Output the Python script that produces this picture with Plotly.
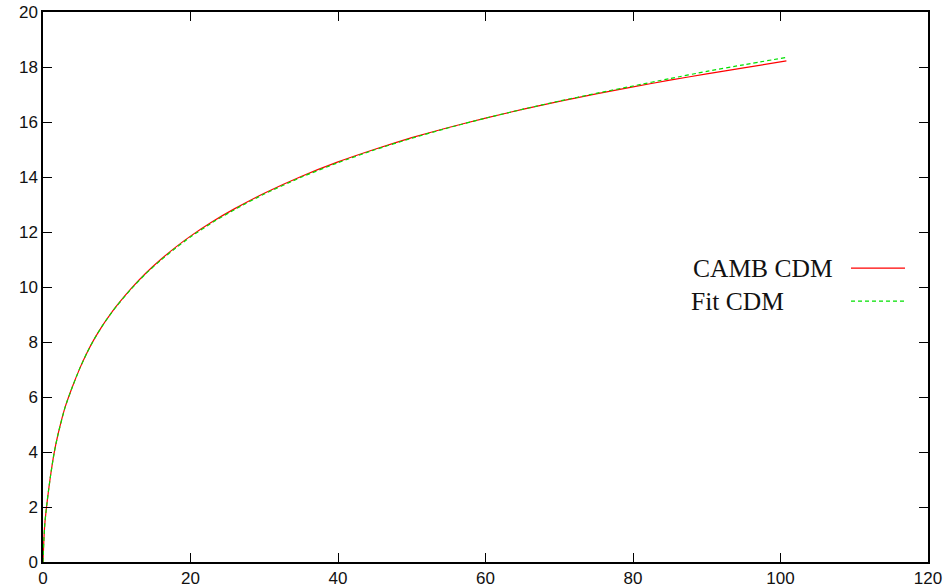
import plotly.graph_objects as go

# x values (independent variable)
x_vals = [0, 0.1, 0.25, 0.5, 0.75, 1, 1.5, 2, 3, 4, 5, 6, 7, 8, 9, 10, 12, 14, 16,
          18, 20, 23, 26, 30, 35, 40, 45, 50, 55, 60, 65, 70, 75, 80, 85, 90, 95, 100.8]

# CAMB CDM curve
camb_cdm = [0, 0.7, 1.4, 2.05, 2.6, 3.1, 3.95, 4.6, 5.63, 6.38, 7.05, 7.63, 8.13,
            8.57, 8.96, 9.32, 9.96, 10.52, 11.01, 11.45, 11.85, 12.38, 12.85, 13.41,
            14.02, 14.55, 15.01, 15.43, 15.8, 16.14, 16.46, 16.75, 17.02, 17.28,
            17.52, 17.75, 17.97, 18.22]

# Fit CDM curve
fit_cdm = [0, 0.7, 1.4, 2.05, 2.6, 3.1, 3.95, 4.6, 5.63, 6.38, 7.05, 7.63, 8.13,
           8.57, 8.96, 9.31, 9.94, 10.5, 10.98, 11.42, 11.82, 12.35, 12.82, 13.38,
           13.99, 14.52, 14.99, 15.41, 15.79, 16.14, 16.46, 16.76, 17.04, 17.31,
           17.58, 17.84, 18.08, 18.35]

legend_labels = ["CAMB CDM", "Fit CDM"]
x_ticks = [0, 20, 40, 60, 80, 100, 120]
y_ticks = [0, 2, 4, 6, 8, 10, 12, 14, 16, 18, 20]

RED = "#ff0000"
GREEN = "#00e000"

fig = go.Figure()
fig.add_trace(go.Scatter(x=x_vals, y=camb_cdm, mode="lines", name=legend_labels[0],
                         line=dict(color=RED, width=1.2, shape="spline", smoothing=0.5)))
fig.add_trace(go.Scatter(x=x_vals, y=fit_cdm, mode="lines", name=legend_labels[1],
                         line=dict(color=GREEN, width=1.2, dash="4px,3px",
                                   shape="spline", smoothing=0.5)))

# manual gnuplot-style legend (text left of sample)
leg_y = [0.5345, 0.4745]
leg_text_x = [0.895, 0.839]
leg_colors = [RED, GREEN]
leg_dash = ["solid", "4px,3px"]
for i in range(2):
    fig.add_annotation(x=leg_text_x[i], y=leg_y[i], xref="paper", yref="paper",
                       text=legend_labels[i], showarrow=False, xanchor="right",
                       yanchor="middle",
                       font=dict(family="Liberation Serif", size=25.5, color="#111111"))
    fig.add_shape(type="line", xref="paper", yref="paper",
                  x0=0.913, x1=0.974, y0=leg_y[i], y1=leg_y[i],
                  line=dict(color=leg_colors[i], width=1.2, dash=leg_dash[i]))

axis_common = dict(showline=True, mirror="ticks", linecolor="black", linewidth=1.5,
                   ticks="inside", ticklen=9, tickwidth=1, tickcolor="black",
                   showgrid=False, zeroline=False, automargin=False,
                   ticklabeloverflow="allow",
                   tickfont=dict(family="Liberation Sans", size=17, color="#111111"))

fig.update_xaxes(range=[0, 120], tickvals=x_ticks, **axis_common)
fig.update_yaxes(range=[0, 20], tickvals=y_ticks, **axis_common)

fig.update_layout(width=949, height=588, showlegend=False,
                  margin=dict(l=43, r=21, t=12, b=26),
                  plot_bgcolor="white", paper_bgcolor="white")

# remove the default 8px page margin so the figure fills the window exactly
fig.write_html("out.html",
               config={"displayModeBar": False},
               post_script="document.body.style.margin='0';"
                           "document.body.style.overflow='hidden';")
